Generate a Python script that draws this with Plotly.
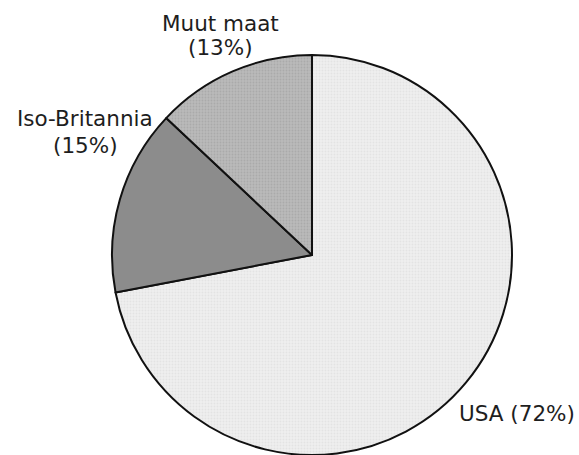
import plotly.graph_objects as go

labels = ["USA", "Iso-Britannia", "Muut maat"]
values = [72, 15, 13]
colors = ["#eeeeee", "#8c8c8c", "#bababa"]
pattern_fg = ["#d8d8d8", "#7c7c7c", "#9a9a9a"]

W, H = 579, 455

fig = go.Figure(go.Pie(
    labels=labels,
    values=values,
    sort=False,
    direction="clockwise",
    rotation=0,
    textinfo="none",
    hoverinfo="label+percent",
    marker=dict(
        colors=colors,
        line=dict(color="#111111", width=2),
        pattern=dict(shape=[".", "", "."], fgcolor=pattern_fg, size=3, solidity=0.3, fillmode="overlay"),
    ),
    domain=dict(x=[112 / W, 512 / W], y=[0, 400 / H]),
    showlegend=False,
))

font = dict(family="DejaVu Sans, Verdana, sans-serif", size=21.5, color="#1e1e1e")
ann = [
    ("Muut maat", 220, 23, "center"),
    ("(13%)", 220, 48, "center"),
    ("Iso-Britannia", 85, 119, "center"),
    ("(15%)", 85, 145, "center"),
    ("USA (72%)", 577, 413, "right"),
]
for txt, x, y, xa in ann:
    fig.add_annotation(
        text=txt, x=x / W, y=1 - y / H, xref="paper", yref="paper",
        showarrow=False, font=font, align="center",
        xanchor=xa, yanchor="middle",
    )

fig.update_layout(
    width=W, height=H,
    margin=dict(l=0, r=0, t=0, b=0),
    paper_bgcolor="white", plot_bgcolor="white",
)
fig.write_html("out.html")
